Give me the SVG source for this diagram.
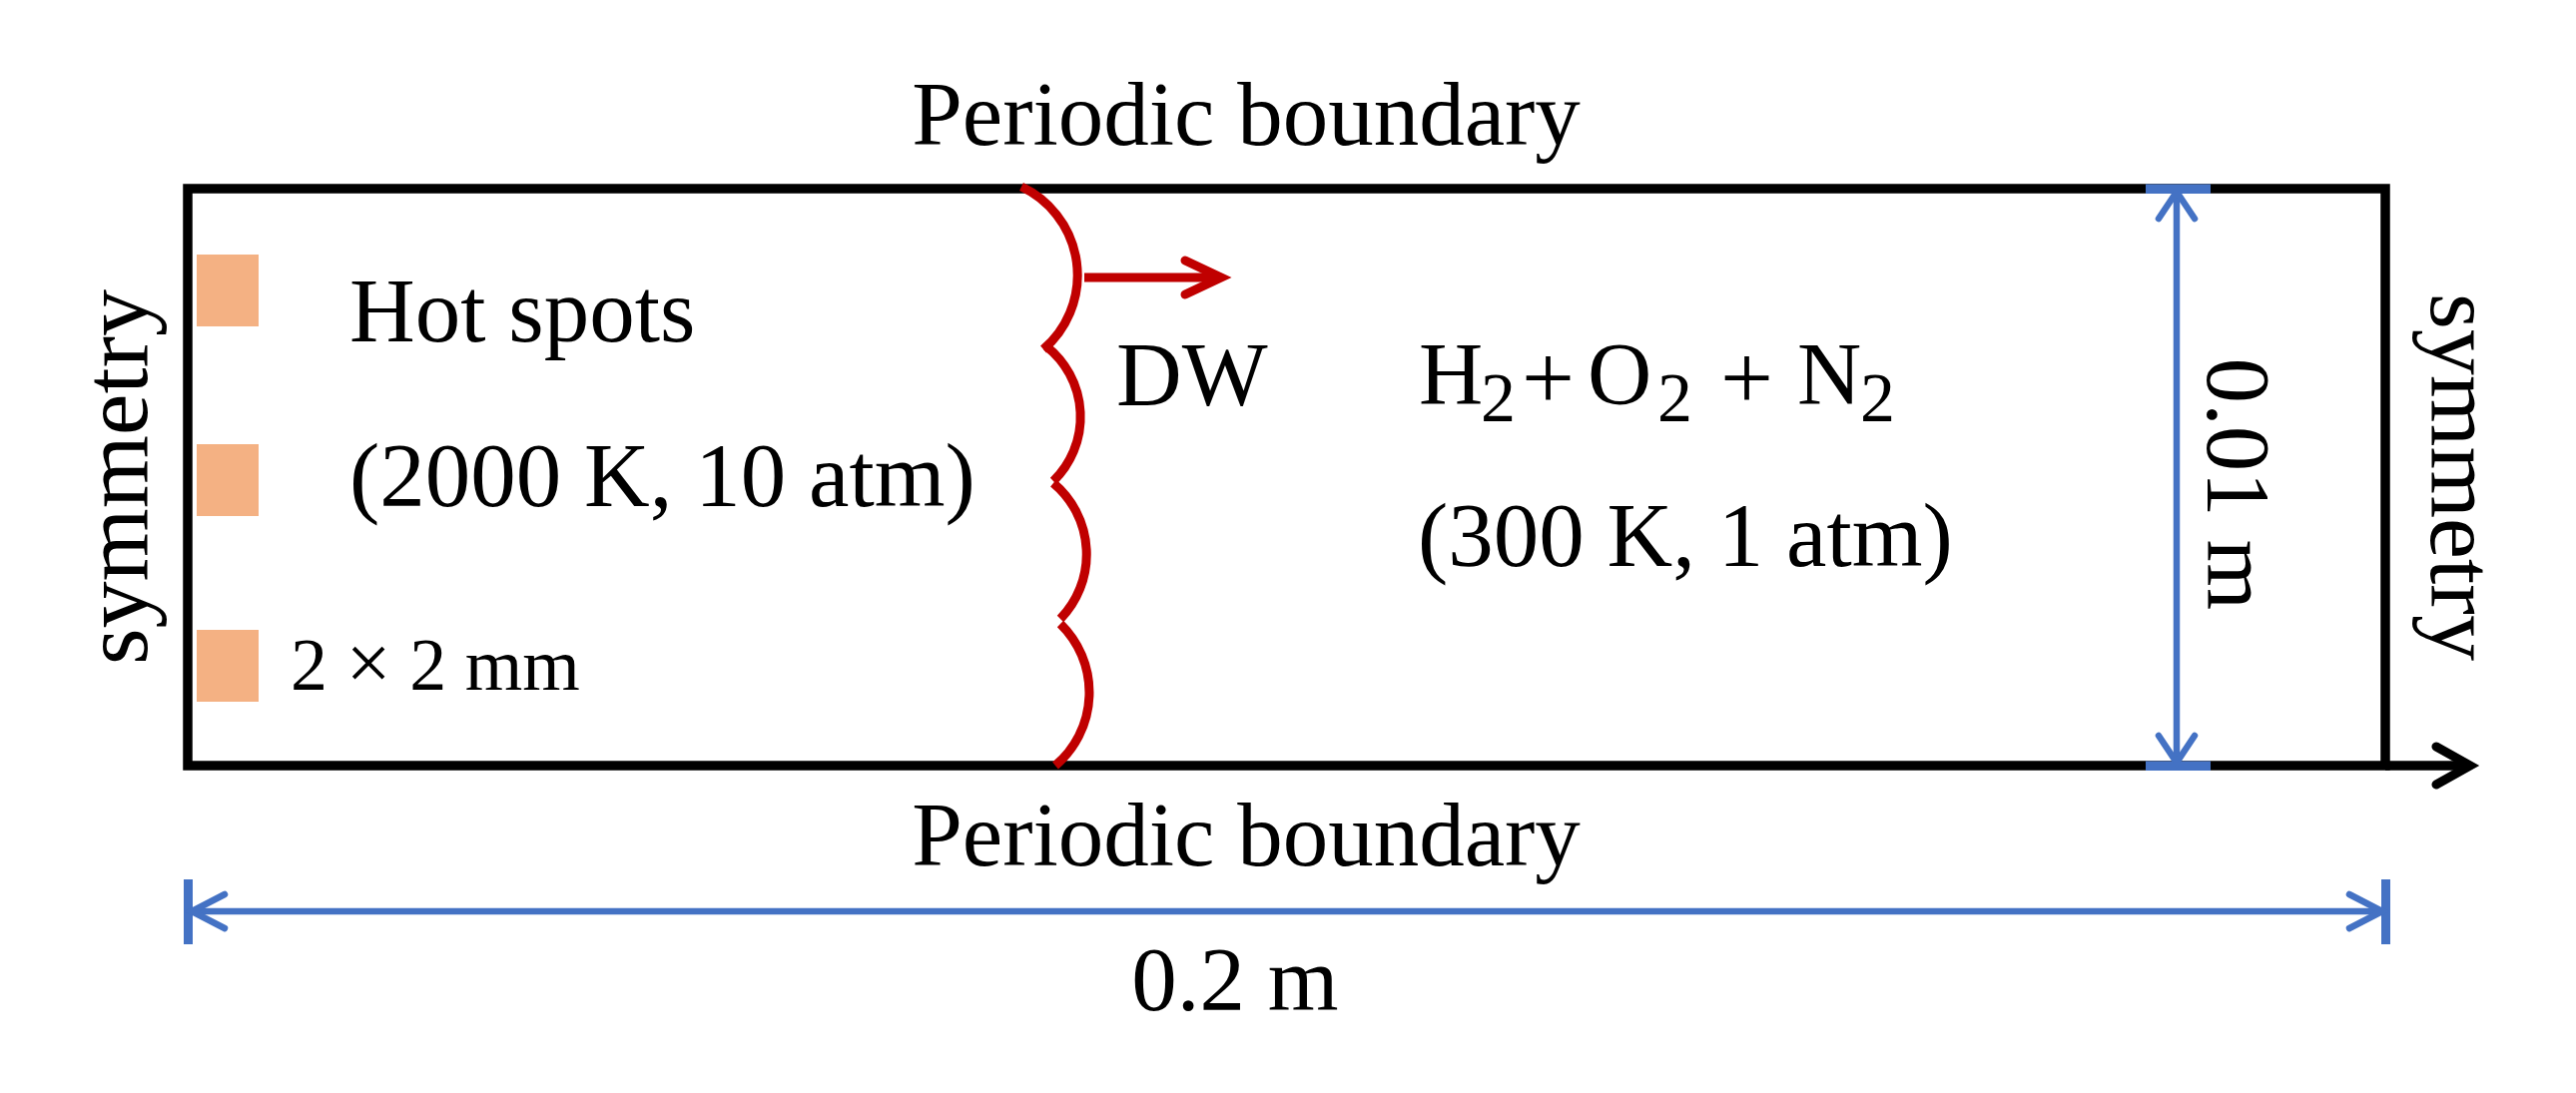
<svg xmlns="http://www.w3.org/2000/svg" width="2580" height="1095" viewBox="0 0 2580 1095">
<style>
text{font-family:"Liberation Serif","Times New Roman",serif;fill:#000}
.t90{font-size:91px}
.mid{text-anchor:middle}
.red{stroke:#C00000;fill:none;stroke-width:9}
.blue{stroke:#4472C4;fill:none;stroke-width:6.5;stroke-linecap:round}
.hot{fill:#F4B183}
</style>
<rect width="2580" height="1095" fill="#fff"/>
<g id="domain">
<path d="M188,189 H2389 V767 H188 Z" fill="none" stroke="#000" stroke-width="9.5" stroke-linejoin="miter"/>
</g>
<g id="hotspots">
<rect class="hot" x="197" y="255" width="62" height="72"/>
<rect class="hot" x="197" y="445" width="62" height="72"/>
<rect class="hot" x="197" y="631" width="62" height="72"/>
</g>
<g id="labels-left">
<text class="t90" x="350" y="342">Hot spots</text>
<text class="t90" x="350" y="507">(2000 K, 10 atm)</text>
<text x="291" y="691" font-size="74">2 <tspan font-size="80">×</tspan> 2 mm</text>
<text class="mid" font-size="94" transform="translate(147,478) rotate(-90)">symmetry</text>
</g>
<g id="detonation-wave">
<path class="red" d="M1023,187 A98,98 0 0 1 1045,350"/>
<path class="red" d="M1048,347 A90,90 0 0 1 1055,482"/>
<path class="red" d="M1055,484 A93,93 0 0 1 1062,620"/>
<path class="red" d="M1062,625 A96,96 0 0 1 1057,767"/>
</g>
<g id="dw-label">
<text class="t90" x="1118" y="406">DW</text>
</g>
<g id="mixture">
<text font-size="89" y="404"><tspan x="1421">H</tspan><tspan x="1483" y="422" font-size="70">2</tspan><tspan x="1524" y="410" font-size="94">+</tspan><tspan x="1590" y="404">O</tspan><tspan x="1660" y="422" font-size="70">2</tspan><tspan x="1723" y="410" font-size="94">+</tspan><tspan x="1800" y="404">N</tspan><tspan x="1863" y="422" font-size="70">2</tspan></text>
<text class="t90" x="1420" y="567">(300 K, 1 atm)</text>
</g>
<g id="boundary-labels">
<text class="t90 mid" x="1248" y="145">Periodic boundary</text>
<text class="t90 mid" x="1248" y="867">Periodic boundary</text>
<text class="mid" font-size="92" transform="translate(2435,478) rotate(90)">symmetry</text>
</g>
<g id="connectors">
<g id="dw-arrow">
<line class="red" x1="1086" y1="278" x2="1220" y2="278"/>
<polyline class="red" points="1187,261 1223,278 1187,295" stroke-linecap="round" stroke-linejoin="miter"/>
</g>
<g id="axis-arrow">
<line x1="2389" y1="767" x2="2470" y2="767" stroke="#000" stroke-width="9.5"/>
<polyline points="2440,748 2474,767 2440,786" fill="none" stroke="#000" stroke-width="9" stroke-linecap="round" stroke-linejoin="miter"/>
</g>
<g id="height-dim">
<rect x="2149" y="184.5" width="65" height="9.5" fill="#4472C4"/>
<rect x="2149" y="762.5" width="65" height="9.5" fill="#4472C4"/>
<line class="blue" x1="2180" y1="194" x2="2180" y2="762" stroke-linecap="butt"/>
<polyline class="blue" points="2162,219 2180,192 2198,219"/>
<polyline class="blue" points="2162,737 2180,764 2198,737"/>
</g>
<g id="length-dim">
<rect x="184" y="881" width="9" height="65" fill="#4472C4"/>
<rect x="2385" y="881" width="9" height="65" fill="#4472C4"/>
<line class="blue" x1="190" y1="913" x2="2387" y2="913" stroke-linecap="butt"/>
<polyline class="blue" points="225,896 192,913 225,930"/>
<polyline class="blue" points="2353,896 2386,913 2353,930"/>
</g>
</g>
<g id="dimension-labels">
<text class="t90 mid" transform="translate(2211,485) rotate(90)">0.01 m</text>
<text class="t90 mid" x="1237" y="1012">0.2 m</text>
</g>
</svg>
